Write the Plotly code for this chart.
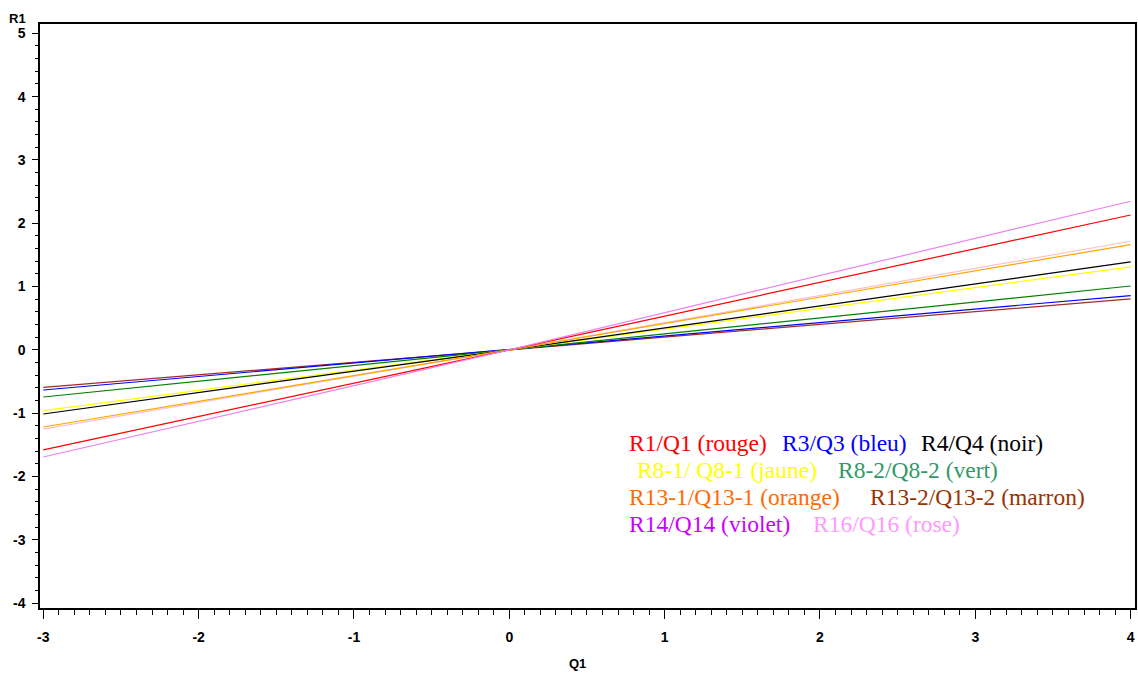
import plotly.graph_objects as go

# ---- data ----
x_vals = [-3, 0, 4]
r1_q1 = [-1.58, 0, 2.13]        # rouge
r3_q3 = [-0.635, 0, 0.857]      # bleu
r4_q4 = [-1.014, 0, 1.388]      # noir
r8_1 = [-0.961, 0, 1.309]       # jaune
r8_2 = [-0.746, 0, 1.008]       # vert
r13_1 = [-1.22, 0, 1.663]       # orange
r13_2 = [-0.593, 0, 0.803]      # marron
r14_q14 = [-1.694, 0, 2.347]    # violet
r16_q16 = [-1.252, 0, 1.715]    # rose

x_tickvals = [-3, -2, -1, 0, 1, 2, 3, 4]
x_ticktext = ["-3", "-2", "-1", "0", "1", "2", "3", "4"]
y_tickvals = [-4, -3, -2, -1, 0, 1, 2, 3, 4, 5]
y_ticktext = ["-4", "-3", "-2", "-1", "0", "1", "2", "3", "4", "5"]

legend_rows = [
    [("R1/Q1 (rouge)", "#ff0000"), ("R3/Q3 (bleu)", "#0000ff"), ("R4/Q4 (noir)", "#000000")],
    [(" R8-1/ Q8-1 (jaune)", "#ffff00"), ("R8-2/Q8-2 (vert)", "#339966")],
    [("R13-1/Q13-1 (orange)", "#ff6a00"), ("R13-2/Q13-2 (marron)", "#993300")],
    [("R14/Q14 (violet)", "#cc00ff"), ("R16/Q16 (rose)", "#ff99ff")],
]

series = [
    (r13_2, "#a52a2a"),
    (r3_q3, "#0000ff"),
    (r8_2, "#008000"),
    (r8_1, "#ffff00"),
    (r4_q4, "#000000"),
    (r16_q16, "#ffc0cb"),
    (r13_1, "#ffa500"),
    (r1_q1, "#ff0000"),
    (r14_q14, "#ee82ee"),
]

OFF = 0  # body margin removed by post_script
W, H = 1138, 673
ML, MR, MT, MB = 40, 3, 24, 65

fig = go.Figure()
for ys, col in series:
    fig.add_trace(go.Scatter(x=x_vals, y=ys, mode="lines",
                             line=dict(color=col, width=1.2),
                             showlegend=False, hoverinfo="skip"))

tickfont = dict(family="Liberation Sans", size=14, color="black", weight="bold")

fig.update_xaxes(range=[-3.021, 4.028], tickvals=x_tickvals, ticktext=x_ticktext,
                 ticks="outside", ticklen=9, tickwidth=1, tickcolor="black",
                 showline=True, linecolor="black", linewidth=1.5, mirror=True,
                 showgrid=False, zeroline=False, tickfont=tickfont,
                 ticklabelstandoff=6, automargin=False, ticklabeloverflow="allow",
                 minor=dict(dtick=0.1, ticks="outside", ticklen=5, tickcolor="black", showgrid=False))
fig.update_yaxes(range=[-4.079, 5.147], tickvals=y_tickvals, ticktext=y_ticktext,
                 ticks="outside", ticklen=6, tickwidth=1, tickcolor="black",
                 showline=True, linecolor="black", linewidth=1.5, mirror=True,
                 showgrid=False, zeroline=False, tickfont=tickfont,
                 ticklabelstandoff=4, automargin=False, ticklabeloverflow="allow",
                 minor=dict(dtick=0.2, ticks="outside", ticklen=3, tickcolor="black", showgrid=False))

def px2paper(px, py):
    px -= OFF
    py -= OFF
    return (px - ML) / (W - ML - MR), (H - MB - py) / (H - MT - MB)

annotations = []
# axis titles
ax, ay = px2paper(577, 663)
annotations.append(dict(x=ax, y=ay, xref="paper", yref="paper", text="Q1", showarrow=False,
                        font=dict(family="Liberation Sans", size=13, color="black", weight="bold"),
                        xanchor="center", yanchor="middle"))
ax, ay = px2paper(17, 18)
annotations.append(dict(x=ax, y=ay, xref="paper", yref="paper", text="R1", showarrow=False,
                        font=dict(family="Liberation Sans", size=13, color="black", weight="bold"),
                        xanchor="center", yanchor="middle"))

row_y = [443, 470, 497, 524]
row_x = [[627, 780, 919], [629, 836], [627, 868], [627, 811]]
for items, py, xs in zip(legend_rows, row_y, row_x):
    for (txt, col), px in zip(items, xs):
        ax, ay = px2paper(px, py)
        annotations.append(dict(x=ax, y=ay, xref="paper", yref="paper", text=txt, showarrow=False,
                                font=dict(family="Liberation Serif", size=23.5, color=col),
                                xanchor="left", yanchor="middle"))

fig.update_layout(width=W, height=H, margin=dict(l=ML, r=MR, t=MT, b=MB, autoexpand=False),
                  paper_bgcolor="white", plot_bgcolor="white",
                  annotations=annotations, showlegend=False)

fig.write_html("out.html", config={"displayModeBar": False},
               post_script="document.body.style.margin='0';document.body.style.overflow='hidden';document.documentElement.style.overflow='hidden';")
